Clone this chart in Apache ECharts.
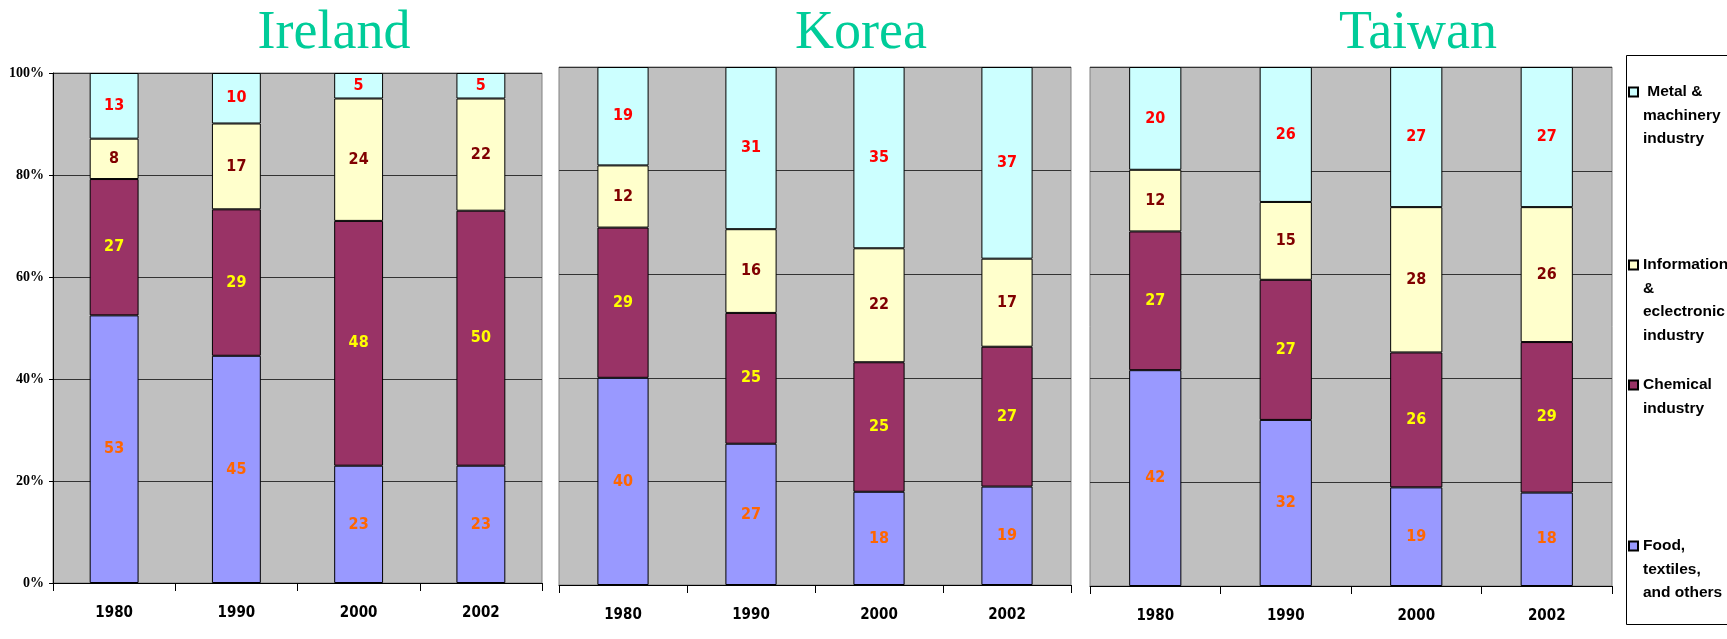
<!DOCTYPE html>
<html><head><meta charset="utf-8">
<script src="https://cdn.jsdelivr.net/npm/echarts/dist/echarts.min.js"></script>
<style>html,body{margin:0;padding:0;background:#fff}#c{width:1727px;height:639px}</style>
</head><body><div id="c"></div>
<script>
// ---- data ----
const years = ['1980', '1990', '2000', '2002'];
const countries = ['Ireland', 'Korea', 'Taiwan'];
const seriesNames = ['Food, textiles, and others', 'Chemical industry', 'Information & eclectronic industry', 'Metal & machinery industry'];
const legendLabels = ['Food,\ntextiles,\nand others', 'Chemical\nindustry', 'Information\n&\neclectronic\nindustry', ' Metal &\nmachinery\nindustry'];

const irelandFood = [53, 45, 23, 23];
const irelandChemical = [27, 29, 48, 50];
const irelandInfo = [8, 17, 24, 22];
const irelandMetal = [13, 10, 5, 5];

const koreaFood = [40, 27, 18, 19];
const koreaChemical = [29, 25, 25, 27];
const koreaInfo = [12, 16, 22, 17];
const koreaMetal = [19, 31, 35, 37];

const taiwanFood = [42, 32, 19, 18];
const taiwanChemical = [27, 27, 26, 29];
const taiwanInfo = [12, 15, 28, 26];
const taiwanMetal = [20, 26, 27, 27];

const yTicks = [0, 20, 40, 60, 80, 100];

// ---- styling ----
const fills = ['#9999FF', '#993366', '#FFFFCC', '#CCFFFF'];
const labelColors = ['#FF6600', '#FFFF00', '#800000', '#FF0000'];
const narrow = '"Liberation Sans Narrow", "Arial Narrow", "DejaVu Sans Condensed", sans-serif';

const countryData = [
  [irelandFood, irelandChemical, irelandInfo, irelandMetal],
  [koreaFood, koreaChemical, koreaInfo, koreaMetal],
  [taiwanFood, taiwanChemical, taiwanInfo, taiwanMetal]
];

const grids = [
  {left: 53, top: 73, width: 489, height: 510},
  {left: 559, top: 67, width: 512, height: 518},
  {left: 1090, top: 67, width: 522, height: 519}
].map(g => Object.assign(g, {show: true, backgroundColor: '#C0C0C0', borderColor: '#808080', borderWidth: 1, containLabel: false}));

const xAxes = countries.map((c, i) => ({
  type: 'category', gridIndex: i, data: years,
  axisLine: {show: true, lineStyle: {color: '#000', width: 1}},
  axisTick: {show: true, length: 8, lineStyle: {color: '#000'}},
  axisLabel: {color: '#000', fontFamily: narrow, fontWeight: 'bold', fontSize: 15, margin: 23}
}));

const yAxes = countries.map((c, i) => ({
  type: 'value', gridIndex: i, min: yTicks[0], max: yTicks[yTicks.length - 1], interval: 20,
  axisLine: {show: i === 0, lineStyle: {color: '#000'}},
  axisTick: {show: i === 0, length: 4, lineStyle: {color: '#000'}},
  axisLabel: {show: i === 0, formatter: '{value}%', color: '#000', fontFamily: '"Liberation Serif", serif', fontWeight: 'bold', fontSize: 14, margin: 9},
  splitLine: {show: true, lineStyle: {color: '#333', width: 1}}
}));

const series = [];
countryData.forEach((sets, ci) => {
  const totals = years.map((y, k) => sets.reduce((a, s) => a + s[k], 0));
  sets.forEach((vals, si) => {
    series.push({
      type: 'bar', name: seriesNames[si], xAxisIndex: ci, yAxisIndex: ci, stack: 'st' + ci,
      barWidth: '40%',
      data: vals.map((v, k) => v / totals[k] * 100),
      itemStyle: {color: fills[si], borderColor: '#000', borderWidth: 1},
      emphasis: {disabled: true},
      label: {
        show: true, position: 'inside', color: labelColors[si], fontFamily: narrow, fontWeight: 'bold', fontSize: 16,
        textBorderWidth: 0,
        formatter: p => String(vals[p.dataIndex])
      }
    });
  });
});

// legend: one component per item; leading blank lines keep the icon level with the first text line
const legendFirstLine = [546, 385, 265, 92];
const lh = 23.5;
const legends = seriesNames.map((nm, si) => {
  const n = legendLabels[si].split('\n').length;
  const blockH = (2 * n - 1) * lh;
  const txt = ' \n'.repeat(n - 1) + legendLabels[si];
  return {
    data: [{name: nm, icon: 'rect'}],
    left: 1628, top: legendFirstLine[si] - blockH / 2,
    padding: 0, itemWidth: 9, itemHeight: 9, itemGap: 0,
    selectedMode: false,
    formatter: () => txt,
    textStyle: {color: '#000', fontFamily: '"Liberation Sans", Arial, sans-serif', fontWeight: 'bold', fontSize: 15.5, lineHeight: lh}
  };
});

const titleX = [334, 861, 1418];
const graphics = countries.map((c, i) => ({
  type: 'text', x: titleX[i], y: 34, silent: true,
  style: {text: c, fill: '#00CC99', font: '54px "Liberation Serif", "Times New Roman", serif', textAlign: 'center', textVerticalAlign: 'middle'}
}));
graphics.push({type: 'rect', silent: true, shape: {x: 1626.5, y: 55.5, width: 130, height: 569}, style: {fill: 'none', stroke: '#000', lineWidth: 1}});

const chart = echarts.init(document.getElementById('c'), null, {renderer: 'canvas'});
chart.setOption({
  animation: false,
  backgroundColor: '#fff',
  grid: grids, xAxis: xAxes, yAxis: yAxes, series: series,
  legend: legends,
  graphic: graphics
});
</script></body></html>
